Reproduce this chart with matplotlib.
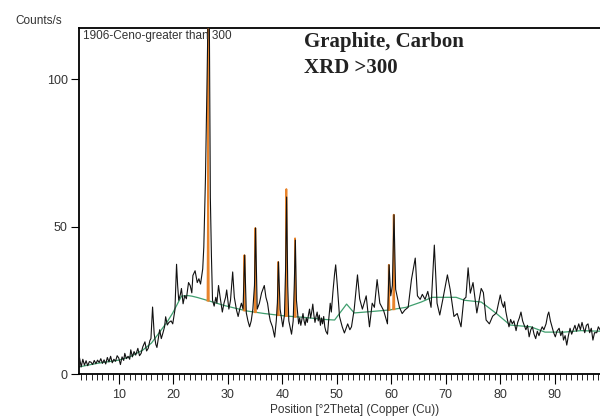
import numpy as np
from matplotlib import pyplot as plt

two_theta = [2.8, 3.1, 3.4, 3.7, 4.0, 4.3, 4.6, 4.9, 5.2, 5.5, 5.8, 6.1, 6.4, 6.7, 7.0, 7.3, 7.6, 7.9,
             8.2, 8.5, 8.8, 9.1, 9.4, 9.7, 10.0, 10.3, 10.6, 10.9, 11.1, 11.4, 11.7, 12.0, 12.2, 12.5,
             12.8, 13.1, 13.5, 13.8, 14.1, 14.4, 14.8, 15.1, 15.4, 15.7, 15.9, 16.2, 16.5, 16.8, 17.0,
             17.3, 17.5, 17.8, 18.1, 18.4, 18.6, 18.9, 19.2, 19.6, 19.9, 20.3, 20.6, 20.8, 21.0, 21.3,
             21.5, 21.8, 22.1, 22.4, 22.8, 23.1, 23.4, 23.6, 24.0, 24.4, 24.7, 25.0, 25.4, 25.6, 25.9,
             26.2, 26.4, 26.6, 26.8, 27.0, 27.2, 27.5, 27.8, 28.0, 28.3, 28.6, 29.0, 29.3, 29.6, 29.8,
             30.2, 30.5, 30.9, 31.2, 31.6, 31.9, 32.2, 32.5, 32.8, 33.1, 33.4, 33.7, 34.0, 34.3, 34.6,
             34.9, 35.1, 35.4, 35.8, 36.2, 36.7, 37.0, 37.3, 37.6, 37.8, 38.2, 38.6, 38.9, 39.1, 39.3,
             39.6, 39.8, 40.1, 40.4, 40.6, 40.8, 41.0, 41.2, 41.7, 42.0, 42.2, 42.4, 42.6,
             43.0, 43.2, 43.4, 43.6, 43.8, 44.0, 44.2, 44.4, 44.6, 44.8, 45.0, 45.2, 45.4, 45.6, 45.8,
             46.0, 46.2, 46.4, 46.6, 46.8, 47.0, 47.2, 47.4, 47.6, 47.8, 48.0, 48.3, 48.5, 48.8, 49.0,
             49.3, 49.6, 49.8, 50.1, 50.5, 51.0, 51.4, 52.0, 52.4, 52.7, 53.2, 53.8, 54.2, 54.7, 55.4,
             56.0, 56.5, 56.9, 57.4, 57.9, 58.6, 59.3, 59.6, 59.9, 60.2, 60.5, 60.8, 61.5, 62.0, 62.5,
             63.1, 63.7, 64.4, 64.8, 65.3, 65.7, 66.2, 66.7, 67.3, 67.9, 68.4, 68.9, 69.5, 70.3, 70.8,
             71.5, 72.1, 72.8, 73.3, 73.7, 74.1, 74.5, 75.0, 75.7, 76.5, 76.9, 77.4, 78.0, 78.6, 79.3,
             80.0, 80.3, 80.6, 80.8, 81.0, 81.3, 81.6, 81.9, 82.2, 82.5, 82.9, 83.2, 83.5, 83.8, 84.1,
             84.4, 84.7, 85.0, 85.3, 85.6, 85.9, 86.2, 86.5, 86.8, 87.1, 87.4, 87.7, 88.0, 88.4, 88.7,
             88.9, 89.2, 89.5, 89.8, 90.1, 90.4, 90.8, 91.1, 91.4, 91.6, 91.9, 92.2, 92.5, 92.8, 93.1,
             93.4, 93.7, 94.0, 94.4, 94.7, 95.0, 95.2, 95.5, 95.8, 96.1, 96.4, 96.7, 97.0, 97.3, 97.7,
             98.0, 98.3]
counts = [5.4, 2.4, 5.0, 3.0, 4.5, 2.8, 4.2, 4.0, 3.2, 4.6, 3.5, 4.7, 3.9, 5.2, 3.6, 4.8, 3.4, 5.6,
          4.1, 6.0, 3.8, 5.0, 4.3, 6.2, 5.4, 3.2, 5.8, 4.6, 7.0, 5.2, 6.0, 5.0, 8.2, 5.8,
          7.6, 6.4, 8.7, 6.2, 7.0, 9.2, 10.9, 7.8, 8.7, 11.3, 12.0, 22.7, 13.5, 10.0, 9.0,
          12.5, 15.0, 12.0, 13.9, 16.0, 19.4, 16.6, 17.5, 18.0, 17.0, 21.7, 37.2, 30.0, 25.0, 27.0,
          29.0, 23.8, 26.6, 25.5, 31.0, 30.0, 27.5, 33.4, 35.0, 31.0, 32.3, 30.5, 35.6, 43.0, 66.0,
          100.0, 125.0, 125.0, 60.0, 40.0, 25.0, 23.0, 26.0, 24.0, 30.0, 26.0, 21.0, 24.0, 26.0, 28.5,
          22.0, 25.0, 34.6, 26.0, 21.7, 19.5, 22.0, 24.0, 22.0, 40.3, 20.7, 18.0, 16.0, 18.0, 22.0,
          30.0, 49.5, 22.0, 24.0, 27.5, 30.0, 26.0, 24.0, 20.0, 18.0, 16.0, 12.5, 18.0, 24.0, 38.0,
          22.0, 19.5, 16.0, 20.0, 35.0, 60.0, 30.0, 18.0, 13.5, 18.0, 30.0, 45.4, 25.0,
          17.0, 19.0, 16.5, 18.5, 20.5, 18.0, 16.5, 19.0, 17.5, 20.0, 22.0, 19.0, 21.0, 23.7, 20.0,
          17.5, 19.5, 21.0, 18.0, 20.0, 16.5, 19.0, 17.0, 19.5, 16.0, 14.5, 13.5, 18.0, 24.0, 21.0,
          28.0, 34.0, 37.0, 30.0, 19.5, 16.0, 13.9, 17.0, 15.0, 16.0, 22.0, 33.6, 25.5, 22.0, 26.5,
          16.0, 24.0, 22.6, 32.0, 24.0, 21.5, 17.0, 37.0, 26.5, 30.0, 54.0, 28.7, 22.6, 20.5, 21.7,
          22.6, 32.0, 39.3, 26.5, 25.3, 27.0, 25.3, 28.0, 22.6, 43.7, 24.0, 20.0, 25.7, 33.6, 28.7,
          19.5, 20.5, 16.0, 25.3, 26.0, 36.0, 27.4, 31.0, 20.7, 29.0, 27.6, 18.3, 17.0, 19.6, 20.7,
          26.8, 24.0, 22.6, 24.5, 21.4, 18.5, 16.0, 18.5, 17.0, 18.0, 14.7, 17.5, 19.0, 21.0, 18.0,
          16.5, 15.0, 16.5, 12.6, 15.0, 16.0, 13.5, 12.0, 14.5, 13.0, 14.7, 16.0, 15.0, 17.0, 20.0,
          21.0, 18.0, 16.0, 14.0, 12.6, 14.5, 15.5, 13.0, 14.5, 11.5, 13.0, 9.8, 13.0, 15.5, 13.5,
          15.0, 16.5, 14.5, 17.0, 15.0, 17.5, 16.0, 14.0, 16.5, 17.0, 14.0, 15.5, 11.5, 14.0, 14.0,
          16.0, 15.0]

# fitted background
bg_theta = [2.7, 6.0, 10.0, 12.0, 14.4, 16.0, 17.5, 19.0, 19.9, 21.5, 22.6, 23.4, 24.5, 26.7, 29.4,
            33.4, 36.7, 40.4, 44.0, 47.7, 49.6, 51.8, 53.2, 56.5, 59.6, 62.7, 65.5, 67.5, 71.9,
            73.4, 76.5, 79.3, 81.8, 85.6, 88.2, 91.7, 94.8, 98.3]
bg_counts = [2.4, 3.6, 4.7, 5.8, 8.1, 10.5, 14.2, 18.0, 20.7, 26.4, 26.6, 26.4, 25.9, 24.7, 23.2,
             21.4, 20.5, 19.7, 19.2, 18.5, 18.3, 23.7, 20.7, 21.2, 21.7, 22.6, 24.4, 26.0, 26.0,
             25.0, 24.4, 20.5, 16.6, 16.0, 14.2, 14.2, 14.7, 14.5]

# identified peaks (position, height)
peak_pos = [26.4, 33.05, 35.05, 39.25, 40.75, 42.35, 59.55, 60.45]
peak_top = [125.0, 40.3, 49.5, 38.0, 62.7, 46.0, 37.0, 54.0]

plt.rcParams['font.family'] = ['Liberation Sans', 'DejaVu Sans']

fig = plt.figure(figsize=(6.0, 4.19), dpi=100)
ax = fig.add_axes([79 / 600, 1 - 374 / 419, 1 - 79 / 600, (374 - 28) / 419])

ax.plot(bg_theta, bg_counts, color='#3f9e6e', lw=0.9, zorder=2)

# peak profiles sit on the background
for pos, top in zip(peak_pos, peak_top):
    base = np.interp(pos, bg_theta, bg_counts)
    ax.plot([pos - 0.12, pos - 0.04, pos, pos + 0.04, pos + 0.12],
            [base, base + (top - base) * 0.3, top, base + (top - base) * 0.3, base],
            color='#e8842c', lw=1.3, zorder=3)

ax.plot(two_theta, counts, color='#111111', lw=0.8, zorder=4)

ax.set_xlim(2.7, 98.3)
ax.set_ylim(0, 117.3)

ax.spines['right'].set_visible(False)
for s in ['left', 'top', 'bottom']:
    ax.spines[s].set_linewidth(1.3)

ax.set_xticks(np.arange(10, 100, 10))
ax.set_xticks(np.arange(3, 99, 1), minor=True)
ax.set_yticks([0, 50, 100])
ax.tick_params(axis='x', which='major', length=7, width=0.8, pad=4, labelsize=9, labelcolor='#333333')
ax.tick_params(axis='x', which='minor', length=4, width=0.6)
ax.tick_params(axis='y', which='major', length=6, width=0.8, pad=2, labelsize=9, labelcolor='#333333')

fig.text(15 / 600, 1 - 24 / 419, 'Counts/s', fontsize=8.5, color='#333333', va='baseline')
fig.text(355 / 600, 1 - 413 / 419, 'Position [°2Theta] (Copper (Cu))', fontsize=8.5,
         color='#333333', ha='center', va='baseline')
fig.text(83 / 600, 1 - 39 / 419, '1906-Ceno-greater than 300', fontsize=8.5,
         color='#333333', va='baseline')

fig.text(304 / 600, 1 - 47 / 419, 'Graphite, Carbon', family='Liberation Serif',
         fontweight='bold', fontsize=15, color='#222222', va='baseline')
fig.text(304 / 600, 1 - 73 / 419, 'XRD >300', family='Liberation Serif',
         fontweight='bold', fontsize=15, color='#222222', va='baseline')

fig.savefig('out.png', dpi=100)
